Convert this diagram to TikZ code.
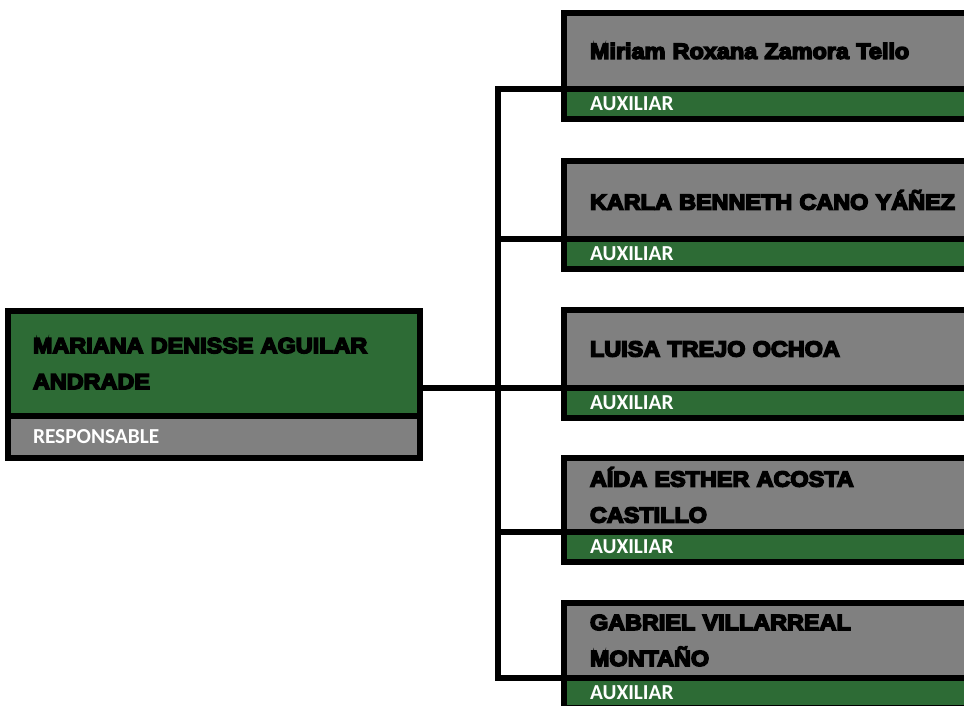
\documentclass[tikz,border=0pt]{standalone}
\usepackage{fontspec}
\setmainfont{Liberation Sans}
\newfontfamily\namefont{Liberation Sans Bold}[FakeStretch=1.07,FakeBold=7]
\newfontfamily\rolefont{Carlito}
\definecolor{verde}{RGB}{45,107,53}
\definecolor{gris}{RGB}{128,128,128}

\begin{document}
\begin{tikzpicture}[x=0.75pt,y=-0.75pt,
		namebox/.style={rectangle,draw,line width=4.5pt,outer sep=0pt,fill=gris,anchor=north west,minimum width=330pt,minimum height=57pt,inner xsep=19.5pt,inner ysep=0pt,text width=291pt,align=left,font=\namefont\fontsize{16.4}{27}\selectfont},
		rolebox/.style={namebox,fill=verde,text=white,minimum height=22.5pt,font=\rolefont\bfseries\fontsize{16}{18}\selectfont},
		conn/.style={line width=4.5pt,line cap=rect}]
		\useasboundingbox (0,0) rectangle (964,706);
		\clip (0,0) rectangle (964,706);
		
		\node(0) at (8,311)[namebox,fill=verde,minimum width=309pt,minimum height=78.75pt,inner xsep=18.75pt,text width=271.5pt]{MARIANA DENISSE AGUILAR\\ANDRADE};
		\node(0a) at (0.south west)[rolebox,fill=gris,minimum width=309pt,minimum height=31.5pt,inner xsep=18.75pt,text width=271.5pt]{RESPONSABLE};
		
		\node(1) at (564,13)[namebox]{Miriam Roxana Zamora Tello};
		\node(1a) at (1.south west)[rolebox]{AUXILIAR};
		\node(2) at (564,161)[namebox,minimum height=58.5pt]{KARLA BENNETH CANO YÁÑEZ};
		\node(2a) at (2.south west)[rolebox]{AUXILIAR};
		\node(3) at (564,310)[namebox,minimum height=58.5pt]{LUISA TREJO OCHOA};
		\node(3a) at (3.south west)[rolebox]{AUXILIAR};
		\node(4) at (564,458)[namebox,minimum height=55.5pt]{AÍDA ESTHER ACOSTA\\CASTILLO};
		\node(4a) at (4.south west)[rolebox]{AUXILIAR};
		\node(5) at (564,603)[namebox,minimum height=56.25pt]{GABRIEL VILLARREAL\\MONTAÑO};
		\node(5a) at (5.south west)[rolebox]{AUXILIAR};
		
		\coordinate(bus) at (498,0);
		\draw[conn] (0.east |- 3.south west) to (3.south west);
		\draw[conn] (bus |- 1.south west) to (bus |- 5.south west);
		\draw[conn] (1.south west) to (bus |- 1.south west);
		\draw[conn] (2.south west) to (bus |- 2.south west);
		\draw[conn] (4.south west) to (bus |- 4.south west);
		\draw[conn] (5.south west) to (bus |- 5.south west);
	\end{tikzpicture}
\end{document}
